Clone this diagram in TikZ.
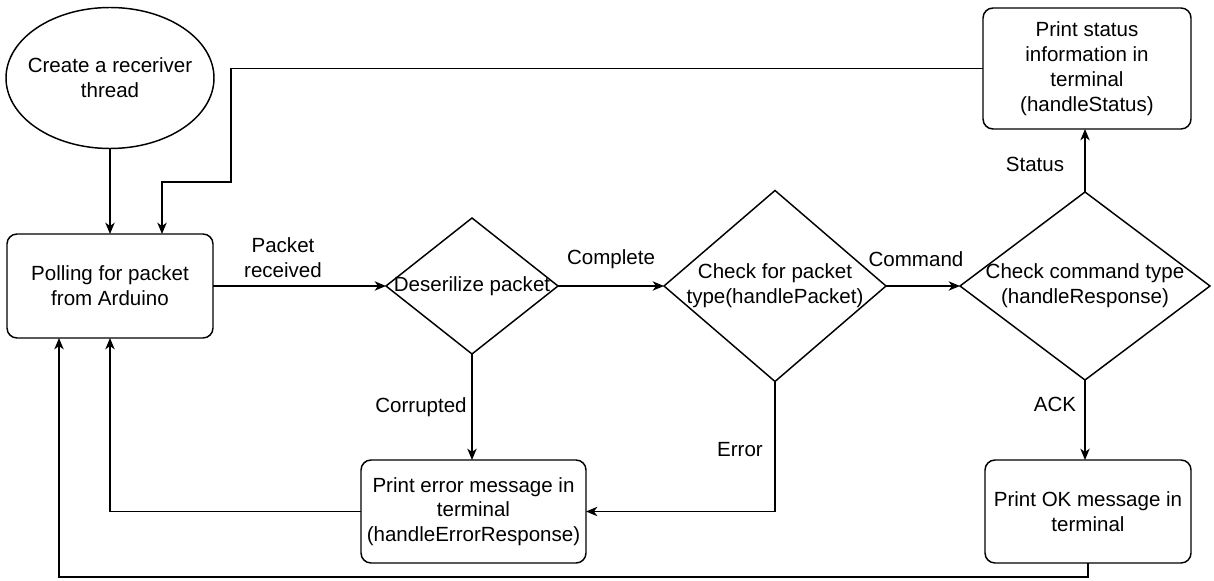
\documentclass[tikz,border=0pt]{standalone}
\usepackage{fontspec}
\setmainfont{Liberation Sans}
\usetikzlibrary{shapes.geometric,arrows.meta}
\begin{document}
\begin{tikzpicture}[x=0.75pt,y=-0.75pt,
  every node/.style={font=\fontsize{15.4}{18.6}\selectfont, align=center, inner sep=0pt, outer sep=0pt},
  line/.style={line width=1.1pt, draw=black},
  arr/.style={line, -{Stealth[length=8.5pt,width=7pt,inset=2.5pt]}},
  rbox/.style={line, rectangle, rounded corners=7.5pt},
  dia/.style={line, diamond},
  oval/.style={line, ellipse},
  lbl/.style={fill=none}
]
\useasboundingbox (0,0) rectangle (1214,581);

% shapes (outlines drawn empty, text placed on top so it may overhang)
\node[oval, minimum width=156pt, minimum height=105.75pt] (start) at (110,78) {};
\node (starttxt) at (start.center) {Create a receriver\\thread};
\node[rbox, minimum width=154.5pt, minimum height=78pt] (poll) at (110,286) {Polling for packet\\from Arduino};
\node[dia, minimum width=129pt, minimum height=102pt] (des) at (472,286) {};
\node (destxt) at (des.center) {Deserilize packet};
\node[dia, minimum width=166.5pt, minimum height=143.25pt] (cp) at (775,286) {};
\node (cptxt) at (cp.center) {Check for packet\\type(handlePacket)};
\node[dia, minimum width=187.5pt, minimum height=141pt] (cc) at (1085,286) {};
\node (cctxt) at (cc.center) {Check command type\\(handleResponse)};
\node[rbox, minimum width=156pt, minimum height=90.75pt] (st) at (1087,68.5) {Print status\\information in\\terminal\\(handleStatus)};
\node[rbox, minimum width=168.75pt, minimum height=77.25pt] (err) at (473.5,511.5) {Print error message in\\terminal\\(handleErrorResponse)};
\node[rbox, minimum width=154.5pt, minimum height=77.25pt] (ok) at (1088,511.5) {Print OK message in\\terminal};

% connectors
\draw[arr] (start) -- (poll);
\draw[arr] (st.west) -| (231,182) -| ([xshift=39pt]poll.north);
\draw[arr] (poll) -- (des);
\draw[arr] (des) -- (cp);
\draw[arr] (cp) -- (cc);
\draw[arr] (cc.north) -- (cc.north |- st.south);
\draw[arr] (cc.south) -- (cc.south |- ok.north);
\draw[arr] (des.south) -- (des.south |- err.north);
\draw[arr] (cp.south) |- (err.east);
\draw[arr] (err.west) -| (poll.south);
\draw[arr] (ok.south) |- (59,577) -- ([xshift=-38.25pt]poll.south);

% connector labels
\node[lbl] (l1) at (283,258) {Packet\\received};
\node[lbl] (l2) at (611,259) {Complete};
\node[lbl] (l3) at (916,259) {Command};
\node[lbl] (l4) at (1035,164) {Status};
\node[lbl] (l5) at (1055,404) {ACK};
\node[lbl] (l6) at (421,407) {Corrupted};
\node[lbl] (l7) at (740,450) {Error};
\end{tikzpicture}
\end{document}
